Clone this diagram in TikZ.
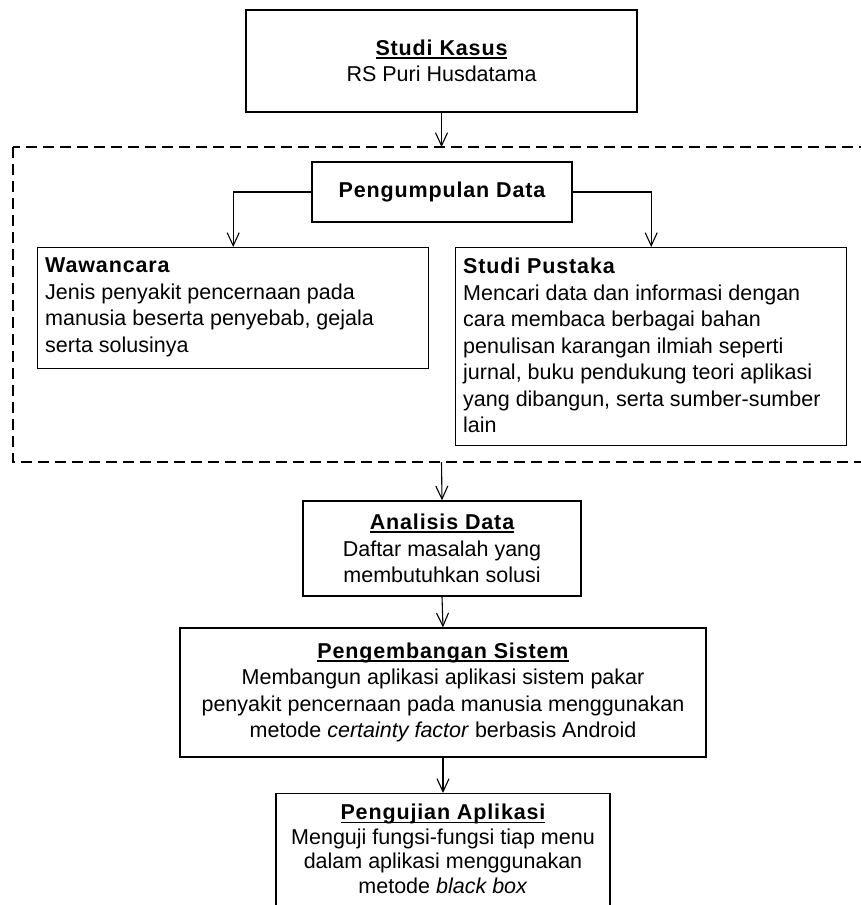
\documentclass[tikz,border=0pt]{standalone}
\usepackage{fontspec}
\setmainfont{Liberation Sans}
\usetikzlibrary{arrows.meta}

% underline drawn as a rule just below the baseline
\newsavebox\ulbox
\newcommand\ulined[1]{\sbox\ulbox{#1}\rlap{\rule[-3.4pt]{\wd\ulbox}{1.7pt}}\usebox\ulbox}
% bold, slightly spaced heading
\newcommand\ttl[1]{{\bfseries\addfontfeatures{LetterSpace=4}#1}}

\tikzset{
  box/.style={draw, line width=1.4pt, inner sep=0pt},
  body/.style={font=\fontsize{21.5}{26.5}\selectfont},
  conn/.style={line width=1.1pt, -{Straight Barb[length=13pt,width=12pt,line width=1.1pt]}},
  grp/.style={line width=1.4pt, dash pattern=on 11pt off 6pt},
}

\begin{document}
\begin{tikzpicture}[x=1pt,y=-1pt]
\useasboundingbox (0,0) rectangle (861,905);

% case study
\node[box, body, align=center, minimum width=391pt, minimum height=102pt]
  (kasus) at (441.5,61) {\ttl{\ulined{Studi Kasus}}\\RS Puri Husdatama};

% data collection group
\draw[grp] (13,147) rectangle (900,462);
\coordinate (gtop) at (441.5,147);
\coordinate (gbot) at (441.5,462);

\node[box, body, minimum width=260pt, minimum height=60pt]
  (kumpul) at (442,192) {\ttl{Pengumpulan Data}};

\node[box, anchor=north west, minimum width=391pt, minimum height=121pt]
  (waw) at (37,247) {};
\node[body, anchor=north west, align=left, inner sep=0pt] (wawtxt) at (45,258)
  {\ttl{Wawancara}\\Jenis penyakit pencernaan pada\\manusia beserta penyebab, gejala\\serta solusinya};

\node[box, anchor=north west, minimum width=391pt, minimum height=198pt]
  (stp) at (455,247) {};
\node[body, anchor=north west, align=left, inner sep=0pt] (stptxt) at (463,258)
  {\ttl{Studi Pustaka}\\Mencari data dan informasi dengan\\cara membaca berbagai bahan\\penulisan karangan ilmiah seperti\\jurnal, buku pendukung teori aplikasi\\yang dibangun, serta sumber-sumber\\lain};

% analysis
\node[box, body, align=center, minimum width=278pt, minimum height=95pt]
  (anal) at (442,548.5) {\ttl{\ulined{Analisis Data}}\\Daftar masalah yang\\membutuhkan solusi};

% system development
\node[box, body, align=center, minimum width=526pt, minimum height=129pt]
  (kemb) at (443,692.5) {\ttl{\ulined{Pengembangan Sistem}}\\Membangun aplikasi aplikasi sistem pakar\\penyakit pencernaan pada manusia menggunakan\\metode \textit{certainty factor} berbasis Android};

% application testing
\node[box, anchor=north, minimum width=334pt, minimum height=130pt]
  (uji) at (443,793) {};
\node[body, align=center, inner sep=0pt, font=\fontsize{21.5}{24.5}\selectfont] (ujitxt) at (443,849)
  {\ttl{\ulined{Pengujian Aplikasi}}\\Menguji fungsi-fungsi tiap menu\\dalam aplikasi menggunakan\\metode \textit{black box}};

% connectors
\draw[conn] (kasus.south) -- (gtop);
\draw[conn] (kumpul.west) -| (waw.north);
\draw[conn] (kumpul.east) -| (stp.north);
\draw[conn] (gbot) -- (anal.north);
\draw[conn] (anal.south) -- (kemb.north);
\draw[conn] (kemb.south) -- (uji.north);
\end{tikzpicture}
\end{document}
